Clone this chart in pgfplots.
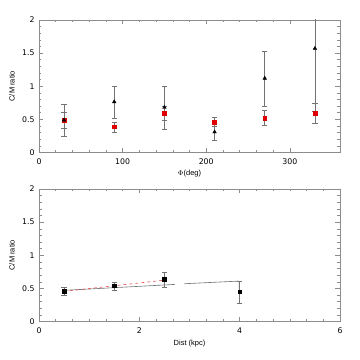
\documentclass[border=0pt]{standalone}
\usepackage{fontspec}
\setmainfont{Liberation Sans}
\newfontfamily\tickfont{DejaVu Sans}
\usepackage{pgfplots}
\pgfplotsset{compat=1.18}
\usepackage{pgfplotstable}

\definecolor{axgray}{RGB}{140,140,140}
\definecolor{errgray}{RGB}{115,115,115}
\definecolor{ptred}{RGB}{225,0,0}

% top panel: phi, value, err+, err-
\pgfplotstableread{
x y ep em
30 0.49 0.235 0.24
90 0.765 0.235 0.245
150 0.68 0.32 0.33
210 0.31 0.11 0.12
270 1.12 0.415 0.425
330 1.57 0.95 0.95
}\phiblack
\pgfplotstableread{
x y ep em
30 0.49 0.11 0.13
90 0.39 0.07 0.09
150 0.59 0.11 0.11
210 0.46 0.07 0.06
270 0.52 0.11 0.11
330 0.59 0.15 0.15
}\phired
% bottom panel: distance
\pgfplotstableread{
x y ep em
0.5 0.46 0.05 0.06
1.5 0.54 0.05 0.07
2.5 0.64 0.11 0.12
4.0 0.45 0.16 0.17
}\distdata

\pgfplotsset{
  cmstyle/.style={
    scale only axis, width=301bp, height=132.5bp,
    font=\fontsize{7.5}{8.5}\selectfont,
    /pgf/number format/assume math mode=true,
    ticklabel style={font=\tickfont\fontsize{7.8}{8.5}\selectfont},
    axis line style={axgray, line width=0.6pt},
    tick style={axgray, line width=0.5pt},
    major tick length=4.5bp, minor tick length=2.5bp,
    tick align=inside, xtick pos=both, ytick pos=both,
    ymin=0, ymax=2, ytick={0,0.5,1,1.5,2},
    minor y tick num=4,
    yticklabel style={xshift=-1bp},
    xticklabel style={yshift=-3bp},
    ylabel={C/M ratio},
    ylabel style={at={(axis description cs:-0.09,0.5)}, anchor=center},
    xlabel style={anchor=center},
    clip=true,
  },
  ebar/.style={
    error bars/.cd, y dir=both, y explicit,
    error bar style={errgray, line width=0.6pt},
    error mark options={errgray, line width=0.6pt, rotate=90, mark size=2.6bp},
  },
}

\begin{document}
\begin{tikzpicture}
\path (0,0) rectangle (360bp,360bp);

\begin{axis}[cmstyle, at={(39bp,207.5bp)}, anchor=south west,
  xmin=0, xmax=360, xtick={0,100,200,300}, minor x tick num=4,
  xlabel={$\Phi$(deg)},
  xlabel style={at={(axis description cs:0.5,-0.16)}},
]
\addplot[only marks, mark=square*, mark size=1.9bp, ptred, ebar]
  table[x=x, y=y, y error plus=ep, y error minus=em] {\phired};
\addplot[only marks, mark=triangle*, mark size=2.1bp, black, ebar]
  table[x=x, y=y, y error plus=ep, y error minus=em] {\phiblack};
\end{axis}

\begin{axis}[cmstyle, at={(39bp,38.5bp)}, anchor=south west,
  xmin=0, xmax=6, xtick={0,2,4,6}, minor x tick num=5,
  xlabel={Dist (kpc)},
  xlabel style={at={(axis description cs:0.5,-0.165)}},
]
\addplot[axgray!80!black, line width=0.6pt] coordinates {(0.5,0.47) (2.71,0.56)};
\addplot[axgray!80!black, line width=0.6pt] coordinates {(2.9,0.57) (3.99,0.61) (3.99,0.45)};
\addplot[ptred!70, dashed, line width=0.6pt] coordinates {(0.5,0.455) (2.45,0.62)};
\addplot[only marks, mark=square*, mark size=1.85bp, black, ebar]
  table[x=x, y=y, y error plus=ep, y error minus=em] {\distdata};
\end{axis}
\end{tikzpicture}
\end{document}
